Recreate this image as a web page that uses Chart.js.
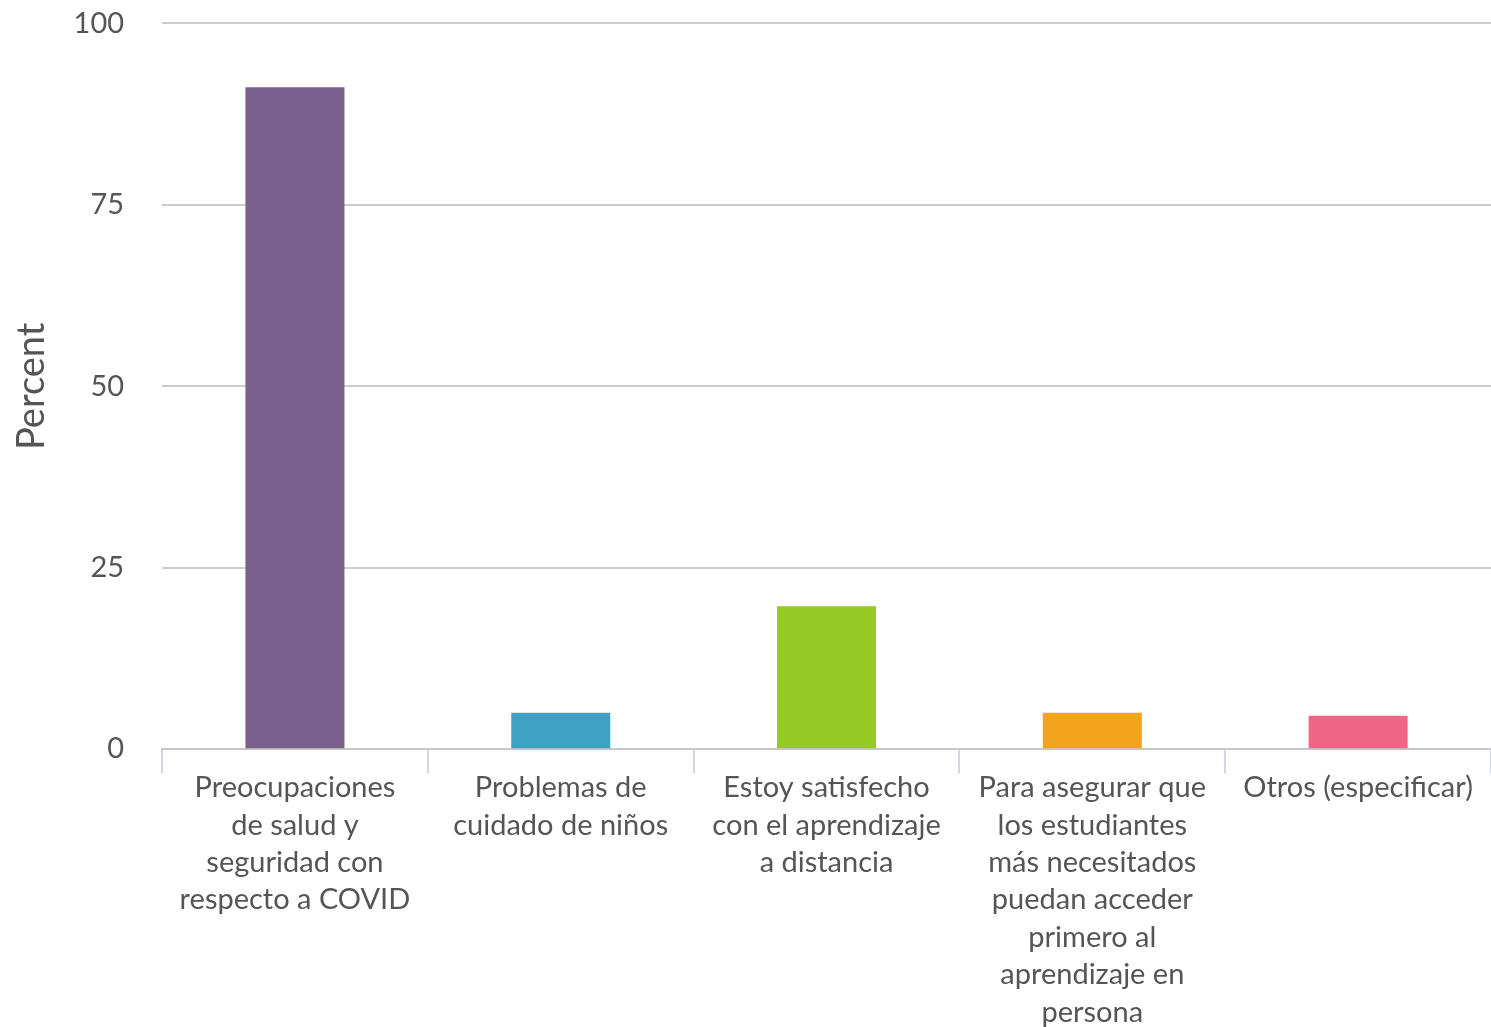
<!DOCTYPE html>
<html>
<head>
<meta charset="utf-8">
<script src="https://cdn.jsdelivr.net/npm/chart.js@4/dist/chart.umd.min.js"></script>
<style>
  html, body { margin: 0; padding: 0; background: #fff; }
  #wrap { width: 1491px; height: 1027px; position: relative; }
</style>
</head>
<body>
<div id="wrap"><canvas id="chart"></canvas></div>
<script>
const categories = [
    ['Preocupaciones', 'de salud y', 'seguridad con', 'respecto a COVID'],
    ['Problemas de', 'cuidado de niños'],
    ['Estoy satisfecho', 'con el aprendizaje', 'a distancia'],
    ['Para asegurar que', 'los estudiantes', 'más necesitados', 'puedan acceder', 'primero al', 'aprendizaje en', 'persona'],
    ['Otros (especificar)']
];
const percents = [91.2, 5.0, 19.7, 5.0, 4.6];
const barColors = ['#7b5f8c', '#40a2c2', '#95c923', '#f3a41c', '#ef6585'];
const yTicks = [0, 25, 50, 75, 100];

const textColor = '#555555';
const fontFamily = "Lato, 'Open Sans', sans-serif";

const ctx = document.getElementById('chart').getContext('2d');
new Chart(ctx, {
    type: 'bar',
    data: {
        labels: categories,
        datasets: [{
            label: 'Percent',
            data: percents,
            backgroundColor: barColors,
            borderWidth: 0,
            barPercentage: 0.745,
            categoryPercentage: 0.5
        }]
    },
    options: {
        responsive: true,
        maintainAspectRatio: false,
        animation: false,
        layout: { padding: { top: 0, left: 9, right: 0, bottom: 0 } },
        plugins: {
            legend: { display: false },
            tooltip: { enabled: false }
        },
        scales: {
            x: {
                offset: true,
                border: { display: true, color: '#c8c8c8', width: 2 },
                grid: {
                    offset: true,
                    drawOnChartArea: false,
                    drawTicks: true,
                    tickLength: 24,
                    color: '#d0d8e8',
                    lineWidth: 2
                },
                ticks: {
                    autoSkip: false,
                    maxRotation: 0,
                    minRotation: 0,
                    padding: -4,
                    color: textColor,
                    font: { family: fontFamily, size: 29, lineHeight: 1.29 }
                }
            },
            y: {
                min: 0,
                max: 100,
                afterBuildTicks: axis => { axis.ticks = yTicks.map(v => ({ value: v })); },
                border: { display: false },
                grid: {
                    color: '#cccccc',
                    lineWidth: 2,
                    drawTicks: true,
                    tickLength: 32,
                    tickColor: 'rgba(0,0,0,0)'
                },
                ticks: {
                    padding: 6,
                    color: textColor,
                    font: { family: fontFamily, size: 29 }
                },
                title: {
                    display: true,
                    text: 'Percent',
                    color: textColor,
                    font: { family: fontFamily, size: 38 },
                    padding: { top: 0, bottom: 13 }
                }
            }
        }
    }
});
</script>
</body>
</html>
